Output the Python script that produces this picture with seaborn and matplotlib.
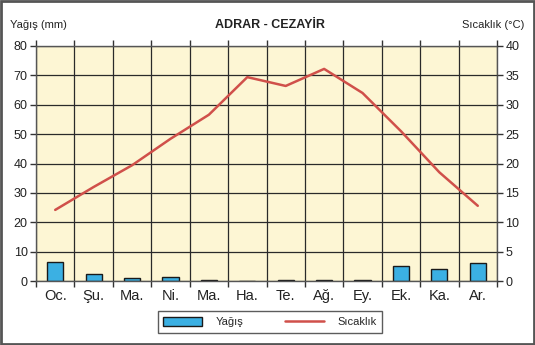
import numpy as np
import pandas as pd
import matplotlib
matplotlib.use("Agg")
import matplotlib.pyplot as plt
import seaborn as sns
from matplotlib.patches import Patch, Rectangle
from matplotlib.lines import Line2D

months = ["Oc.", "Şu.", "Ma.", "Ni.", "Ma.", "Ha.", "Te.", "Ağ.", "Ey.", "Ek.", "Ka.", "Ar."]
rain = [6.5, 2.5, 1.0, 1.5, 0.5, 0.0, 0.5, 0.5, 0.3, 5.0, 4.0, 6.0]
temp = [12.1, 16.0, 19.7, 24.2, 28.3, 34.7, 33.2, 36.1, 32.0, 25.5, 18.5, 12.8]
rain_ticks = [0, 10, 20, 30, 40, 50, 60, 70, 80]
temp_ticks = [0, 5, 10, 15, 20, 25, 30, 35, 40]

sns.set_theme(style="white")
plt.rcParams['font.family'] = ['Liberation Sans', 'DejaVu Sans']

df = pd.DataFrame({"pos": np.arange(len(months)), "rain": rain, "temp": temp})

fig = plt.figure(figsize=(5.35, 3.45), dpi=100)
fig.patch.set_facecolor("white")
ax = fig.add_axes([36/535, 64/345, 461/535, 235/345])
ax.set_facecolor("#fdf6d4")

sns.barplot(data=df, x="pos", y="rain", native_scale=True, width=0.42,
            color="#3bb0e3", edgecolor="#1a1a1a", linewidth=1.0, saturation=1, ax=ax)
ax.set_xlim(-0.5, 11.5)
ax.set_ylim(0, 80)
ax.set_yticks(rain_ticks)
ax.set_xticks(np.arange(-0.5, 12, 1), minor=False)
ax.set_xticklabels([])
ax.set_xticks(np.arange(12), minor=True)
ax.set_xticklabels(months, minor=True, fontsize=10.5, color="#222")
ax.tick_params(axis="x", which="major", direction="out", length=4, width=1, color="#333", top=True, bottom=True)
ax.tick_params(axis="x", which="minor", length=0, pad=6)
ax.tick_params(axis="y", direction="out", length=4, width=1, color="#333", labelsize=9, labelcolor="#222", left=True, pad=2)
ax.grid(True, which="major", color="#2a2a2a", linewidth=0.9)
ax.set_axisbelow(True)
ax.set_xlabel("")
ax.set_ylabel("")
for s in ax.spines.values():
    s.set_color("#555")
    s.set_linewidth(1.0)

ax2 = ax.twinx()
sns.lineplot(data=df, x="pos", y="temp", color="#d0504a", linewidth=1.8, ax=ax2)
ax2.set_ylim(0, 40)
ax2.set_yticks(temp_ticks)
ax2.set_ylabel("")
ax2.set_xlim(-0.5, 11.5)
ax2.tick_params(axis="y", direction="out", length=4, width=1, color="#333", labelsize=9, labelcolor="#222", right=True, pad=2)
for s in ax2.spines.values():
    s.set_visible(False)

fig.text(10/535, 1 - 25/345, "Yağış (mm)", fontsize=8, va="center", ha="left", color="#222")
fig.text(524/535, 1 - 25/345, "Sıcaklık (°C)", fontsize=8, va="center", ha="right", color="#222")
fig.text(270/535, 1 - 25/345, "ADRAR - CEZAYİR", fontsize=9, fontweight="bold", va="center", ha="center", color="#222")

handles = [Patch(facecolor="#3bb0e3", edgecolor="#1a1a1a", linewidth=1.0),
           Line2D([0], [0], color="#d0504a", linewidth=1.8)]
leg = fig.legend(handles, ["Yağış", "Sıcaklık"], loc="center", bbox_to_anchor=(270/535, 1 - 322/345),
                 ncol=2, frameon=True, fancybox=False, fontsize=8, columnspacing=3.8,
                 handlelength=3.5, handleheight=0.9, borderpad=0.5, handletextpad=1.2)
leg.get_frame().set_edgecolor("#333")
leg.get_frame().set_linewidth(1.0)

fig.patches.append(Rectangle((0.002, 0.003), 0.996, 0.994, transform=fig.transFigure,
                             fill=False, edgecolor="#555", linewidth=2.0))

fig.savefig("out.png", dpi=100)
